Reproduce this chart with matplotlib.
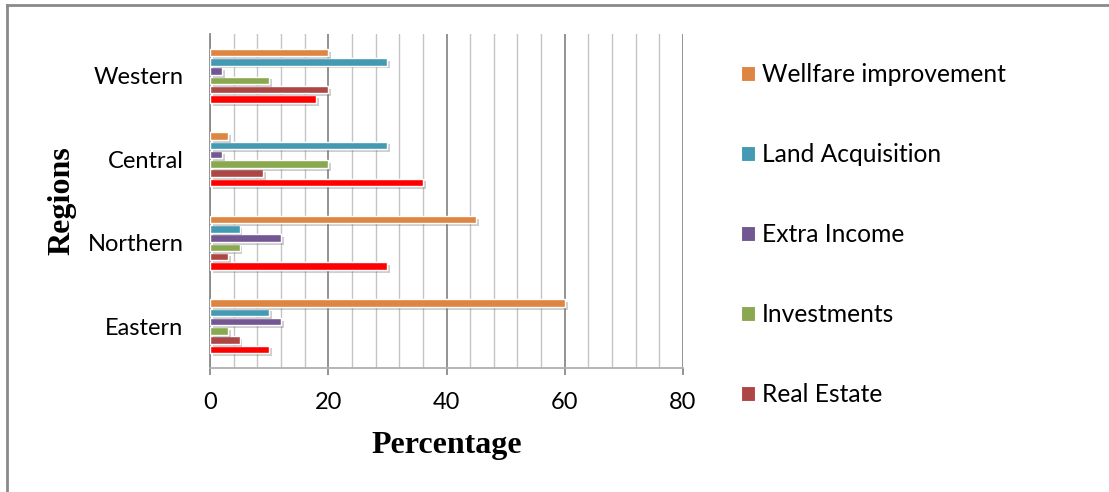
import numpy as np
import matplotlib
matplotlib.use('Agg')
import matplotlib.pyplot as plt
import matplotlib.patheffects as pe
from matplotlib.patches import Patch
from matplotlib.lines import Line2D

# regions, listed bottom to top
regions = ['Eastern', 'Northern', 'Central', 'Western']

# percentage per region (same order as regions)
wellfare = [60, 45, 3, 20]
land_acq = [10, 5, 30, 30]
extra_income = [12, 12, 2, 2]
investments = [3, 5, 20, 10]
real_estate = [5, 3, 9, 20]
other = [10, 30, 36, 18]

series_names = ['Wellfare improvement', 'Land Acquisition', 'Extra Income',
                'Investments', 'Real Estate']

# bottom-to-top order inside each group
series = [other, real_estate, investments, extra_income, land_acq, wellfare]
colors = ['#ff0000', '#ad4644', '#8aa84f', '#735793', '#4499b3', '#dd8541']

plt.rcParams['font.family'] = ['Lato', 'DejaVu Sans']

fig = plt.figure(figsize=(11.09, 4.92), dpi=100)
ax = fig.add_axes([210 / 1109, 1 - 368 / 492, 473 / 1109, 334 / 492])

y = np.arange(len(regions))
slot = 0.111
shadow = [pe.SimplePatchShadow(offset=(2, -2), shadow_rgbFace='0.45', alpha=0.35),
          pe.Normal()]
for i, (vals, col) in enumerate(zip(series, colors)):
    bars = ax.barh(y + (i - 2.5) * slot, vals, height=0.092, color=col,
                   edgecolor='white', linewidth=1.0, zorder=3)
    for b in bars:
        b.set_path_effects(shadow)

ax.set_xlim(0, 80)
ax.set_ylim(-0.5, 3.5)
ax.set_xticks([0, 20, 40, 60, 80])
ax.set_xticks(np.arange(0, 81, 4), minor=True)
ax.set_yticks(y)
ax.set_yticklabels(regions)

ax.grid(which='minor', axis='x', color='#c4c4c4', linewidth=1.0, zorder=0)
ax.grid(which='major', axis='x', color='#8a8a8a', linewidth=1.3, zorder=0)

for s in ['top', 'right']:
    ax.spines[s].set_visible(False)
ax.spines['left'].set_color('#8a8a8a')
ax.spines['left'].set_linewidth(1.3)
ax.spines['bottom'].set_color('#b0b0b0')
ax.spines['bottom'].set_linewidth(1.3)

ax.tick_params(axis='x', which='major', length=5, width=1.3, color='#8a8a8a',
               labelsize=17, pad=12)
ax.tick_params(axis='x', which='minor', length=0)
ax.tick_params(axis='y', length=0, labelsize=17, pad=19)

ax.set_xlabel('Percentage', fontsize=23, fontweight='bold',
              family='Liberation Serif', va='center')
ax.xaxis.set_label_coords(0.5, (368 - 445) / 334)
ax.set_ylabel('Regions', fontsize=23, fontweight='bold',
              family='Liberation Serif', va='center')
ax.yaxis.set_label_coords((62 - 210) / 473, 0.5)

handles = [Patch(facecolor=c, edgecolor='white', linewidth=0.8)
           for c in colors[::-1][:5]]
fig.legend(handles, series_names, loc='upper left',
           bbox_to_anchor=(729 / 1109, 1 - 51 / 492), frameon=False,
           fontsize=17.7, handlelength=0.55, handleheight=0.55,
           handletextpad=0.3, labelspacing=2.32, borderpad=0)

# frame lines along top and left edge
fig.add_artist(Line2D([7 / 1109, 1], [1 - 5 / 492, 1 - 5 / 492],
                      transform=fig.transFigure, color='#8a8a8a', linewidth=2))
fig.add_artist(Line2D([7 / 1109, 7 / 1109], [0, 1 - 5 / 492],
                      transform=fig.transFigure, color='#8a8a8a', linewidth=2))

fig.savefig('out.png', dpi=100, facecolor='white')
